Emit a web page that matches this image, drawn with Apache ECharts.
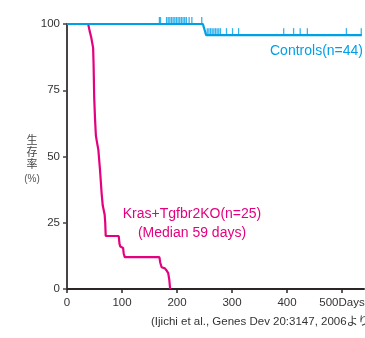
<!DOCTYPE html>
<html>
<head>
<meta charset="utf-8">
<script src="https://cdn.jsdelivr.net/npm/echarts@6/dist/echarts.min.js"></script>
<style>
html,body{margin:0;padding:0;background:#fff;}
#chart{width:365px;height:338px;}
</style>
</head>
<body>
<div id="chart"></div>
<script>
// ---- data ----
const xTicks = [0, 100, 200, 300, 400, 500];
const yTicks = [0, 25, 50, 75, 100];
// Kras+Tgfbr2KO survival curve [day, % surviving]
const krasCurve = [[0,100],[38.5,100],[41,97.5],[44,95],[47.5,91],[48.3,85],[49.5,72],[51,64],[52.5,58],[54,56],[57,52.5],[60,45],[63,36],[65,31.5],[68.5,28],[69.5,25],[70.4,20],[94,20],[95.5,17],[97,16],[102,15.5],[103,13.5],[105,12],[168,12],[169.5,10],[172,8.2],[178,7.8],[181,7],[184,6],[186,3.5],[187.5,0]];
// Controls survival curve
const ctrlCurve = [[0,100],[247,100],[253,95.8],[536,95.8]];
// censored observations (controls)
const ctrlCensorAt100 = [168,170,181,184,187,190,193,196,199,202,205,208,211,214,217,222,227,245];
const ctrlCensorAt96 = [255,258,261,264,267,270,273,276,279,290,301,312,394,412,424,437,508,535];

const CYAN = '#00a0e9';
const MAG = '#e4007f';
const FONT = '"Liberation Sans", Arial, "Noto Sans CJK JP", sans-serif';
const CJK = '"Noto Sans CJK JP", sans-serif';

const chart = echarts.init(document.getElementById('chart'), null, {renderer: 'canvas'});
chart.setOption({
  animation: false,
  backgroundColor: '#fff',
  grid: {left: 67, top: 24, width: 297, height: 265, containLabel: false, outerBoundsMode: 'none'},
  xAxis: {
    type: 'value', min: 0, max: 540,
    axisLine: {show: true, lineStyle: {color: '#2b2626', width: 2}},
    axisTick: {show: true, length: 4, customValues: xTicks, lineStyle: {color: '#2b2626', width: 1.5}},
    axisLabel: {customValues: xTicks, margin: 8, color: '#333', fontSize: 11.5, fontFamily: FONT,
      formatter: v => v === 500 ? '500Days' : String(v)},
    splitLine: {show: false}
  },
  yAxis: {
    type: 'value', min: 0, max: 100, interval: 25,
    axisLine: {show: true, lineStyle: {color: '#4a4343', width: 2}},
    axisTick: {show: true, length: 4, lineStyle: {color: '#4a4343', width: 1.5}},
    axisLabel: {margin: 7, color: '#333', fontSize: 11.5, fontFamily: FONT},
    splitLine: {show: false}
  },
  series: [
    {type: 'line', data: krasCurve, showSymbol: false, symbol: 'none', smooth: false,
      lineStyle: {color: MAG, width: 2.2}, z: 2},
    {type: 'line', data: ctrlCurve, showSymbol: false, symbol: 'none',
      lineStyle: {color: CYAN, width: 2.2}, z: 3},
    {type: 'scatter', data: ctrlCensorAt100.map(d => [d, 100]), symbol: 'rect',
      symbolSize: [1.3, 7], symbolOffset: [0, -3.5], itemStyle: {color: CYAN}, z: 4},
    {type: 'scatter', data: ctrlCensorAt96.map(d => [d, 95.8]), symbol: 'rect',
      symbolSize: [1.3, 7], symbolOffset: [0, -3.5], itemStyle: {color: CYAN}, z: 4}
  ],
  graphic: [
    {type: 'text', x: 363, y: 51, style: {text: 'Controls(n=44)', fill: CYAN, font: '14px ' + FONT, textAlign: 'right', textVerticalAlign: 'middle'}},
    {type: 'text', x: 192, y: 214, style: {text: 'Kras+Tgfbr2KO(n=25)', fill: MAG, font: '14px ' + FONT, textAlign: 'center', textVerticalAlign: 'middle'}},
    {type: 'text', x: 192, y: 233, style: {text: '(Median 59 days)', fill: MAG, font: '14px ' + FONT, textAlign: 'center', textVerticalAlign: 'middle'}},
    {type: 'text', x: 32, y: 140, style: {text: '生', fill: '#444', font: '11px ' + CJK, textAlign: 'center', textVerticalAlign: 'middle'}},
    {type: 'text', x: 32, y: 152, style: {text: '存', fill: '#444', font: '11px ' + CJK, textAlign: 'center', textVerticalAlign: 'middle'}},
    {type: 'text', x: 32, y: 164, style: {text: '率', fill: '#444', font: '11px ' + CJK, textAlign: 'center', textVerticalAlign: 'middle'}},
    {type: 'text', x: 32, y: 179, style: {text: '(%)', fill: '#555', font: '10px ' + FONT, textAlign: 'center', textVerticalAlign: 'middle'}},
    {type: 'text', x: 151, y: 322, style: {text: '(Ijichi et al., Genes Dev 20:3147, 2006より', fill: '#333', font: '11.5px ' + FONT, textAlign: 'left', textVerticalAlign: 'middle'}}
  ]
});
</script>
</body>
</html>
